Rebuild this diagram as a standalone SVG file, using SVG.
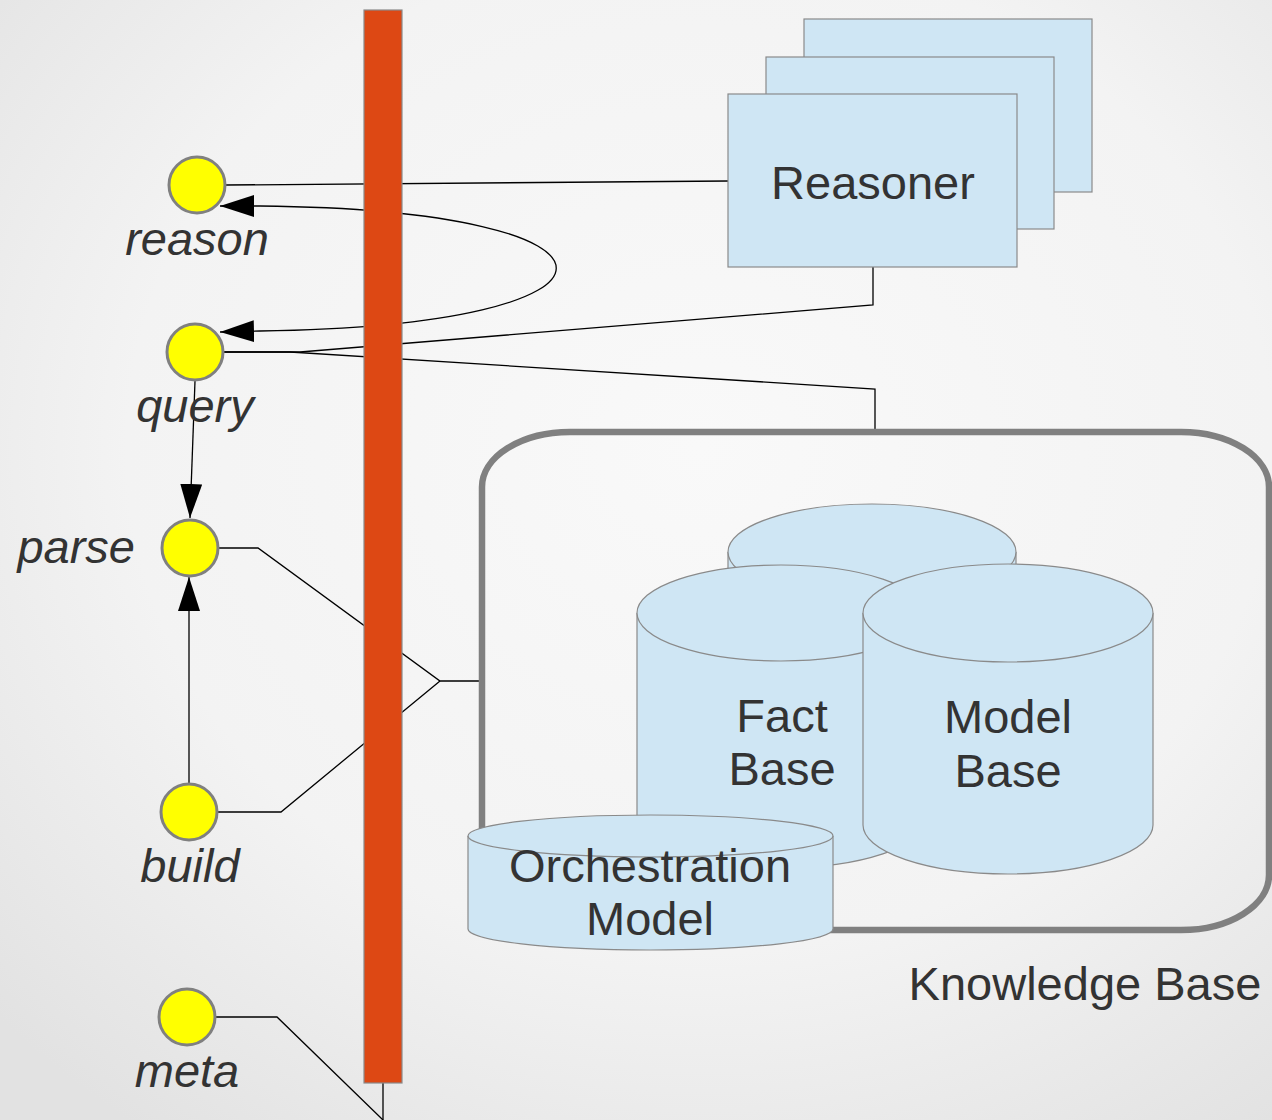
<svg xmlns="http://www.w3.org/2000/svg" width="1272" height="1120" viewBox="0 0 1272 1120">
<defs>
<radialGradient id="bg" cx="55%" cy="40%" r="75%">
<stop offset="0" stop-color="#f9f9f9"/>
<stop offset="0.6" stop-color="#f3f3f3"/>
<stop offset="1" stop-color="#e2e2e2"/>
</radialGradient>
<marker id="arr" markerUnits="userSpaceOnUse" markerWidth="36" markerHeight="24" refX="34" refY="11" orient="auto">
<path d="M0,0 L34,11 L0,22 Z" fill="#000"/>
</marker>
<marker id="arrs" markerUnits="userSpaceOnUse" markerWidth="36" markerHeight="24" refX="34" refY="11" orient="auto-start-reverse">
<path d="M0,0 L34,11 L0,22 Z" fill="#000"/>
</marker>
</defs>
<style>
.lbl{font-family:"Liberation Sans",Arial,sans-serif;font-size:47px;fill:#333333;text-anchor:middle}
.it{font-style:italic}
.port{fill:#ffff00;stroke:#808080;stroke-width:3}
.box{fill:#cfe6f4;stroke:#8a8a8a;stroke-width:1.2}
.con{fill:none;stroke:#000;stroke-width:1.3}
</style>
<rect width="1272" height="1120" fill="url(#bg)"/>

<g id="connectors">
<polyline class="con" points="226,185 728,181"/>
<path class="con" d="M220,206 L260,206 C655,210 655,326 260,331 L220,332" marker-start="url(#arrs)" marker-end="url(#arr)"/>
<polyline class="con" points="224,352 300,352 873,305 873,267"/>
<polyline class="con" points="224,352 290,352 875,389 875,431"/>
<line class="con" x1="195" y1="381" x2="190" y2="518" marker-end="url(#arr)"/>
<line class="con" x1="189" y1="783" x2="189" y2="577" marker-end="url(#arr)"/>
<polyline class="con" points="219,548 258,548 440,681 482,681"/>
<polyline class="con" points="218,812 281,812 440,681"/>
<polyline class="con" points="216,1017 277,1017 383,1120"/>
<line class="con" x1="383" y1="1083" x2="383" y2="1120"/>
</g>

<g id="bus">
<rect x="364" y="10" width="38" height="1073" fill="#dd4814" stroke="#8a8a8a" stroke-width="1.2"/>
</g>

<g id="reasoner">
<rect class="box" x="804" y="19" width="288" height="173"/>
<rect class="box" x="766" y="57" width="288" height="172"/>
<rect class="box" x="728" y="94" width="289" height="173"/>
<text class="lbl" x="873" y="199">Reasoner</text>
</g>

<g id="knowledge-base">
<rect x="482" y="432" width="787" height="498" rx="88" ry="55" fill="none" stroke="#808080" stroke-width="6.5"/>
<text class="lbl" x="1085" y="1000">Knowledge Base</text>
</g>

<g id="back-store">
<path class="box" d="M728,552 A144,48 0 0 1 1016,552 L1016,760 A144,48 0 0 1 728,760 Z"/>
<path class="box" d="M728,552 A144,48 0 0 0 1016,552" fill="none"/>
</g>

<g id="fact-base">
<path class="box" d="M637,613 A144,48 0 0 1 925,613 L925,820 A144,48 0 0 1 637,820 Z"/>
<path class="box" d="M637,613 A144,48 0 0 0 925,613" fill="none"/>
<text class="lbl" x="782" y="732">Fact</text>
<text class="lbl" x="782" y="785">Base</text>
</g>

<g id="model-base">
<path class="box" d="M863,613 A145,49 0 0 1 1153,613 L1153,825 A145,49 0 0 1 863,825 Z"/>
<path class="box" d="M863,613 A145,49 0 0 0 1153,613" fill="none"/>
<text class="lbl" x="1008" y="733">Model</text>
<text class="lbl" x="1008" y="787">Base</text>
</g>

<g id="orchestration-model">
<path class="box" d="M468,836 A182.5,21 0 0 1 833,836 L833,929 A182.5,21 0 0 1 468,929 Z"/>
<path class="box" d="M468,836 A182.5,21 0 0 0 833,836" fill="none"/>
<text class="lbl" x="650" y="882">Orchestration</text>
<text class="lbl" x="650" y="935">Model</text>
</g>

<g id="reason">
<circle class="port" cx="197" cy="185" r="28"/>
<text class="lbl it" x="197" y="255">reason</text>
</g>
<g id="query">
<circle class="port" cx="195" cy="352" r="28"/>
<text class="lbl it" x="195" y="422">query</text>
</g>
<g id="parse">
<circle class="port" cx="190" cy="548" r="28"/>
<text class="lbl it" x="135" y="563" style="text-anchor:end">parse</text>
</g>
<g id="build">
<circle class="port" cx="189" cy="812" r="28"/>
<text class="lbl it" x="190" y="882">build</text>
</g>
<g id="meta">
<circle class="port" cx="187" cy="1017" r="28"/>
<text class="lbl it" x="187" y="1087">meta</text>
</g>
</svg>
